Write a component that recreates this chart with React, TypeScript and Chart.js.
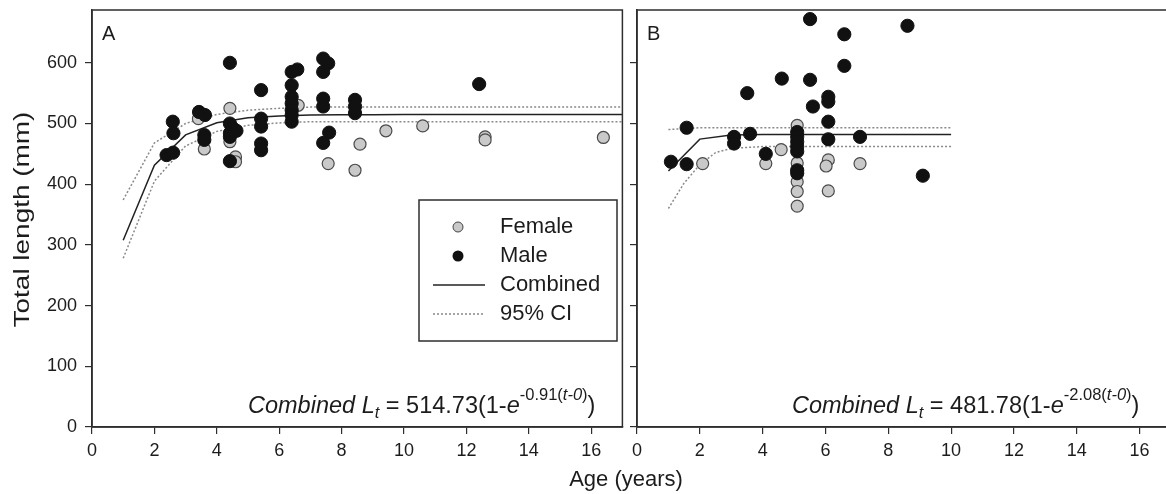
import React, { useEffect, useRef } from 'react';
import { Chart, registerables } from 'chart.js';
Chart.register(...registerables);

const FONT = '"Liberation Sans", Arial, Helvetica, sans-serif';
const TEXT = '#1c1c1c';
const AXIS = '#2e2e2e';

// Axes
const xTicks = [0, 2, 4, 6, 8, 10, 12, 14, 16];
const yTicks = [0, 100, 200, 300, 400, 500, 600];
const X_MAX = 17;
const Y_MAX = 687;
const yTitle = 'Total length (mm)';
const xTitle = 'Age (years)';

// ---------- Panel A ----------
const femaleA_age = [3.41, 4.42, 3.6, 4.42, 4.6, 4.6, 6.61, 7.57, 8.59, 8.43, 9.42, 10.6, 12.6, 12.6, 16.39];
const femaleA_len = [508, 525, 458, 470, 445, 437, 530, 434, 466, 423, 488, 496, 478, 473, 477];

const maleA_age = [4.42, 2.59, 2.61, 2.39, 2.6, 3.43, 3.62, 3.6, 3.6, 4.42, 4.52, 4.42, 4.63, 4.42, 4.42,
  5.42, 5.42, 5.42, 5.42, 5.42, 6.4, 6.58, 6.4, 6.4, 6.4, 6.4, 6.4, 6.4,
  7.41, 7.57, 7.41, 7.41, 7.41, 7.6, 7.41, 8.43, 8.43, 8.43, 12.41];
const maleA_len = [600, 503, 484, 448, 452, 519, 514, 481, 473, 500, 492, 484, 488, 478, 438,
  555, 508, 495, 467, 456, 585, 589, 563, 544, 533, 522, 514, 503,
  607, 599, 585, 541, 528, 485, 468, 539, 528, 517, 565];

const fitA_age = [1, 2, 3, 4, 5, 6, 7, 8, 9, 10, 11, 12, 13, 14, 15, 16, 17];
const fitA_len = [307.6, 431.3, 481.2, 501.2, 509.3, 512.5, 513.9, 514.4, 514.6, 514.7, 514.7, 514.7, 514.7, 514.7, 514.7, 514.7, 514.7];
const ciA_upper = [374, 468, 500, 515, 522, 525, 527, 527, 527, 527, 527, 527, 527, 527, 527, 527, 527];
const ciA_lower = [278, 405, 463, 487, 497, 501, 503, 503, 503, 503, 503, 503, 503, 503, 503, 503, 503];

// ---------- Panel B ----------
const femaleB_age = [2.09, 4.1, 4.59, 5.1, 5.1, 5.1, 5.1, 5.1, 6.09, 6.02, 6.09, 7.1];
const femaleB_len = [434, 434, 457, 497, 435, 404, 388, 364, 440, 430, 389, 434];

const maleB_age = [5.51, 8.61, 6.6, 6.6, 4.61, 5.51, 3.51, 6.09, 6.09, 5.6, 6.09, 1.58, 3.6, 3.09, 3.09,
  6.09, 7.1, 1.08, 1.58, 4.1, 5.1, 5.1, 5.1, 5.1, 5.1, 5.1, 5.1, 9.1];
const maleB_len = [672, 661, 647, 595, 574, 572, 550, 544, 536, 528, 503, 493, 483, 478, 467,
  474, 478, 437, 433, 450, 486, 478, 470, 462, 454, 423, 418, 414];

const fitB_age = [1, 2, 3, 4, 5, 6, 7, 8, 9, 10];
const fitB_len = [421.6, 474.3, 480.9, 481.7, 481.8, 481.8, 481.8, 481.8, 481.8, 481.8];
const ciB_upper_age = [1, 2, 3, 4, 5, 6, 7, 8, 9, 10];
const ciB_upper = [490, 493, 493, 493, 493, 493, 493, 493, 493, 493];
const ciB_lower_age = [1, 1.5, 2, 2.5, 3, 4, 5, 6, 7, 8, 9, 10];
const ciB_lower = [360, 402, 432, 452, 459, 462, 462, 462, 462, 462, 462, 462];

const legendLabels = ['Female', 'Male', 'Combined', '95% CI'];

const pts = (xs: number[], ys: number[]) => xs.map((x, i) => ({ x, y: ys[i] }));

type EqSeg = { t: string; it?: boolean; sup?: boolean; sub?: boolean };

function drawEquation(ctx: CanvasRenderingContext2D, x: number, y: number, coef: string, rate: string) {
  const big = 23.5;
  const small = 16.5;
  const segs: EqSeg[] = [
    { t: 'Combined ', it: true },
    { t: 'L', it: true },
    { t: 't', it: true, sub: true },
    { t: ' = ' + coef + '(1-' },
    { t: 'e', it: true },
    { t: '-' + rate + '(', sup: true },
    { t: 't-0', sup: true, it: true },
    { t: ')', sup: true },
    { t: ')' },
  ];
  let cx = x;
  ctx.textBaseline = 'alphabetic';
  ctx.textAlign = 'left';
  ctx.fillStyle = TEXT;
  for (const s of segs) {
    const size = s.sup || s.sub ? small : big;
    ctx.font = `${s.it ? 'italic ' : ''}${size}px ${FONT}`;
    const dy = s.sup ? -13 : s.sub ? 5 : 0;
    ctx.fillText(s.t, cx, y + dy);
    cx += ctx.measureText(s.t).width;
  }
}

function drawLegend(ctx: CanvasRenderingContext2D, left: number, top: number) {
  const w = 198, h = 141;
  ctx.fillStyle = '#ffffff';
  ctx.fillRect(left, top, w, h);
  ctx.strokeStyle = AXIS;
  ctx.lineWidth = 1.5;
  ctx.strokeRect(left, top, w, h);
  const rows = [top + 27, top + 56, top + 85, top + 114];
  ctx.font = `22px ${FONT}`;
  ctx.fillStyle = TEXT;
  ctx.textBaseline = 'middle';
  ctx.textAlign = 'left';
  legendLabels.forEach((lab, i) => {
    ctx.fillStyle = TEXT;
    ctx.fillText(lab, left + 81, rows[i]);
  });
  const mx = left + 39;
  ctx.beginPath();
  ctx.arc(mx, rows[0], 5, 0, Math.PI * 2);
  ctx.fillStyle = '#c9c9c9';
  ctx.fill();
  ctx.lineWidth = 1;
  ctx.strokeStyle = '#444';
  ctx.stroke();
  ctx.beginPath();
  ctx.arc(mx, rows[1], 5.5, 0, Math.PI * 2);
  ctx.fillStyle = '#111';
  ctx.fill();
  ctx.beginPath();
  ctx.moveTo(left + 14, rows[2]);
  ctx.lineTo(left + 66, rows[2]);
  ctx.strokeStyle = '#222';
  ctx.lineWidth = 1.5;
  ctx.stroke();
  ctx.beginPath();
  ctx.setLineDash([2, 2]);
  ctx.moveTo(left + 14, rows[3]);
  ctx.lineTo(left + 66, rows[3]);
  ctx.strokeStyle = '#888';
  ctx.stroke();
  ctx.setLineDash([]);
}

const panelPlugin = {
  id: 'panelDecor',
  afterDraw(chart: any, _args: any, opts: any) {
    const { ctx, chartArea: a } = chart;
    ctx.save();
    ctx.strokeStyle = AXIS;
    ctx.lineWidth = 1.5;
    ctx.strokeRect(a.left, a.top, a.right - a.left, a.bottom - a.top);
    ctx.fillStyle = TEXT;
    ctx.font = `20px ${FONT}`;
    ctx.textBaseline = 'alphabetic';
    ctx.textAlign = 'left';
    ctx.fillText(opts.letter, a.left + 10, a.top + 30);
    drawEquation(ctx, a.left + opts.eqX, a.bottom - 14, opts.coef, opts.rate);
    if (opts.legend) drawLegend(ctx, a.left + 327, a.top + 190);
    if (opts.yTitle) {
      // y axis title, stretched along its length as in the source figure
      ctx.save();
      ctx.translate(23, (a.top + a.bottom) / 2 + 1);
      ctx.rotate(-Math.PI / 2);
      ctx.scale(1.27, 1);
      ctx.font = `22px ${FONT}`;
      ctx.textAlign = 'center';
      ctx.textBaseline = 'middle';
      ctx.fillStyle = TEXT;
      ctx.fillText(opts.yTitle, 0, 0);
      ctx.restore();
    }
    ctx.restore();
  },
};

function makeConfig(p: {
  female: { x: number; y: number }[];
  male: { x: number; y: number }[];
  fit: { x: number; y: number }[];
  upper: { x: number; y: number }[];
  lower: { x: number; y: number }[];
  yWidth: number;
  padRight: number;
  showY: boolean;
  letter: string;
  coef: string;
  rate: string;
  eqX: number;
  legend: boolean;
}) {
  const lineDs = (data: any[], color: string, dash: number[], order: number) => ({
    type: 'line',
    data,
    showLine: true,
    borderColor: color,
    borderWidth: 1.5,
    borderDash: dash,
    pointRadius: 0,
    fill: false,
    tension: 0,
    order,
  });
  return {
    type: 'scatter',
    data: {
      datasets: [
        lineDs(p.upper, '#8a8a8a', [2, 2], 10),
        lineDs(p.lower, '#8a8a8a', [2, 2], 10),
        lineDs(p.fit, '#222222', [], 9),
        {
          data: p.female,
          pointRadius: 6,
          pointBackgroundColor: '#c9c9c9',
          pointBorderColor: '#4a4a4a',
          pointBorderWidth: 1.2,
          order: 5,
        },
        {
          data: p.male,
          pointRadius: 6.6,
          pointBackgroundColor: '#111111',
          pointBorderColor: '#111111',
          pointBorderWidth: 1,
          order: 4,
        },
      ],
    },
    options: {
      animation: false,
      responsive: false,
      events: [],
      layout: { padding: { left: 0, top: 10, right: p.padRight, bottom: 0 } },
      plugins: {
        legend: { display: false },
        tooltip: { enabled: false },
        panelDecor: {
          letter: p.letter,
          coef: p.coef,
          rate: p.rate,
          eqX: p.eqX,
          legend: p.legend,
          yTitle: p.showY ? yTitle : '',
        },
      },
      scales: {
        x: {
          type: 'linear',
          position: 'bottom',
          min: 0,
          max: X_MAX,
          afterBuildTicks: (s: any) => {
            s.ticks = xTicks.map((v) => ({ value: v }));
          },
          afterFit: (s: any) => {
            s.height = 67;
            s.paddingLeft = 0;
            s.paddingRight = 0;
          },
          border: { display: true, color: AXIS, width: 1.5 },
          grid: { drawOnChartArea: false, drawTicks: true, tickLength: 7, color: AXIS, lineWidth: 1.2 },
          ticks: { font: { family: FONT, size: 18 }, color: TEXT, padding: 6, maxRotation: 0, autoSkip: false },
        },
        y: {
          type: 'linear',
          position: 'left',
          min: 0,
          max: Y_MAX,
          afterBuildTicks: (s: any) => {
            s.ticks = yTicks.map((v) => ({ value: v }));
          },
          afterFit: (s: any) => {
            s.width = p.yWidth;
            s.paddingTop = 0;
            s.paddingBottom = 0;
          },
          border: { display: true, color: AXIS, width: 1.5 },
          grid: { drawOnChartArea: false, drawTicks: true, tickLength: 7, color: AXIS, lineWidth: 1.2 },
          ticks: { display: p.showY, font: { family: FONT, size: 18 }, color: TEXT, padding: 8 },
        },
      },
    },
    plugins: [panelPlugin],
  };
}

function Panel(props: { cfg: any; left: number; width: number }) {
  const ref = useRef<HTMLCanvasElement>(null);
  useEffect(() => {
    if (!ref.current) return;
    const chart = new Chart(ref.current, props.cfg);
    return () => chart.destroy();
  }, []);
  return (
    <canvas
      ref={ref}
      width={props.width}
      height={494}
      style={{ position: 'absolute', left: props.left, top: 0, width: props.width, height: 494 }}
    />
  );
}

export default function App() {
  const cfgA = makeConfig({
    female: pts(femaleA_age, femaleA_len),
    male: pts(maleA_age, maleA_len),
    fit: pts(fitA_age, fitA_len),
    upper: pts(fitA_age, ciA_upper),
    lower: pts(fitA_age, ciA_lower),
    yWidth: 92,
    padRight: 7,
    showY: true,
    letter: 'A',
    coef: '514.73',
    rate: '0.91',
    eqX: 156,
    legend: true,
  });
  const cfgB = makeConfig({
    female: pts(femaleB_age, femaleB_len),
    male: pts(maleB_age, maleB_len),
    fit: pts(fitB_age, fitB_len),
    upper: pts(ciB_upper_age, ciB_upper),
    lower: pts(ciB_lower_age, ciB_lower),
    yWidth: 37,
    padRight: 29,
    showY: false,
    letter: 'B',
    coef: '481.78',
    rate: '2.08',
    eqX: 155,
    legend: false,
  });
  return (
    <div
      style={{
        position: 'absolute',
        left: 0,
        top: 0,
        width: 1166,
        height: 494,
        overflow: 'hidden',
        background: '#ffffff',
      }}
    >
      <Panel cfg={cfgA} left={0} width={630} />
      <Panel cfg={cfgB} left={600} width={600} />
      <div
        style={{
          position: 'absolute',
          left: 526,
          width: 200,
          top: 467,
          textAlign: 'center',
          font: `22px ${FONT}`,
          lineHeight: '24px',
          color: TEXT,
        }}
      >
        {xTitle}
      </div>
    </div>
  );
}
